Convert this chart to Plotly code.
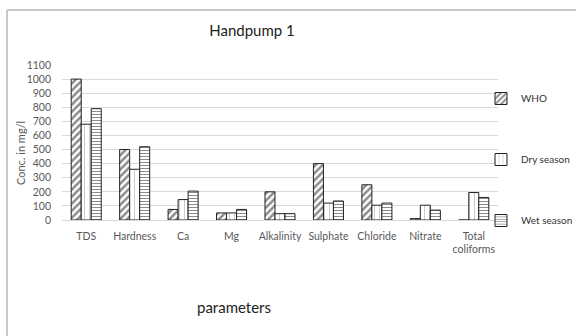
import plotly.graph_objects as go

# Water quality parameters for Handpump 1
parameters = ["TDS", "Hardness", "Ca", "Mg", "Alkalinity", "Sulphate",
              "Chloride", "Nitrate", "Total<br>coliforms"]
who = [1000, 500, 75, 50, 200, 400, 250, 10, 0]
dry_season = [680, 360, 145, 50, 45, 120, 105, 105, 195]
wet_season = [790, 520, 205, 75, 45, 135, 120, 70, 160]
y_ticks = list(range(0, 1101, 100))

FONT = "Lato"
TICK_COLOR = "#595959"
W, H = 576, 336
L, R, T, B = 62, 78, 65, 116
PW, PH = W - L - R, H - T - B


def px_x(x):
    return (x - L) / PW


def px_y(y):
    return (H - B - y) / PH


fig = go.Figure()

fig.add_trace(go.Bar(
    name="WHO", x=parameters, y=who, legendgroup="a",
    marker=dict(color="white", line=dict(color="#222222", width=1),
                pattern=dict(shape="/", fgcolor="#1a1a1a", size=5, solidity=0.5)),
))
fig.add_trace(go.Bar(
    name="Dry season", x=parameters, y=dry_season, legendgroup="b",
    marker=dict(color="white", line=dict(color="#222222", width=1),
                pattern=dict(shape="|", fgcolor="#9a9a9a", size=5, solidity=0.2)),
))
fig.add_trace(go.Bar(
    name="Wet season", x=parameters, y=wet_season, legendgroup="c",
    marker=dict(color="white", line=dict(color="#222222", width=1),
                pattern=dict(shape="-", fgcolor="#1a1a1a", size=3, solidity=0.35)),
))

# outer chart frame: top and left edges only (the rest runs off the page)
fig.add_shape(type="line", xref="paper", yref="paper",
              x0=px_x(7), x1=px_x(W + 40), y0=px_y(10), y1=px_y(10),
              line=dict(color="#c8c8c8", width=2))
fig.add_shape(type="line", xref="paper", yref="paper",
              x0=px_x(7), x1=px_x(7), y0=px_y(10), y1=px_y(H + 40),
              line=dict(color="#c8c8c8", width=2))

# axis titles
fig.add_annotation(text="parameters", xref="paper", yref="paper",
                   x=px_x(234), y=px_y(307), showarrow=False,
                   xanchor="center", yanchor="middle",
                   font=dict(family=FONT, size=15, color="#222222"))
fig.add_annotation(text="Conc. in mg/l", xref="paper", yref="paper",
                   x=px_x(20), y=px_y(153), showarrow=False, textangle=-90,
                   xanchor="center", yanchor="middle",
                   font=dict(family=FONT, size=11, color=TICK_COLOR))

fig.update_layout(
    width=W, height=H,
    margin=dict(l=L, r=R, t=T, b=B, autoexpand=False),
    paper_bgcolor="white", plot_bgcolor="white",
    font=dict(family=FONT, size=10.5, color=TICK_COLOR),
    barmode="group", bargap=0.38, bargroupgap=0,
    title=dict(text="Handpump 1", x=252 / W, xanchor="center",
               y=1 - 31 / H, yanchor="middle",
               font=dict(family=FONT, size=15, color="#222222")),
    showlegend=True,
    legend=dict(x=px_x(481), xanchor="left", y=px_y(84), yanchor="top",
                tracegroupgap=42, font=dict(family=FONT, size=10, color="#333333"),
                bgcolor="rgba(0,0,0,0)", borderwidth=0),
    xaxis=dict(tickfont=dict(family=FONT, size=10.5, color=TICK_COLOR),
               ticklabelstandoff=8,
               showline=False, ticks="", showgrid=False),
    yaxis=dict(range=[0, 1100], tickvals=y_ticks,
               tickfont=dict(family=FONT, size=10.5, color=TICK_COLOR),
               ticklabelstandoff=10,
               showgrid=True, gridcolor="#d9d9d9", gridwidth=1,
               zeroline=True, zerolinecolor="#d9d9d9", zerolinewidth=1,
               showline=False, ticks=""),
)

fig.write_html("out.html")
